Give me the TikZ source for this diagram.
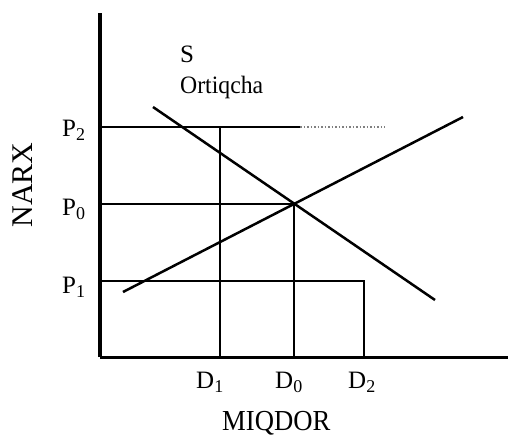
\documentclass[tikz,border=0pt]{standalone}
\usepackage{fontspec}
\setmainfont{Liberation Serif}
\newcommand{\sbs}[1]{\raisebox{-0.35ex}{\fontsize{18}{20}\selectfont #1}}
\begin{document}
\begin{tikzpicture}[x=1pt,y=-1pt,
  lbl/.style={inner sep=0pt, anchor=base west, font=\fontsize{25}{28}\selectfont},
  axisline/.style={line width=3.5pt},
  gridline/.style={line width=2pt},
  curveline/.style={line width=2.5pt}]
\useasboundingbox (0,0) rectangle (515,437);
% axes
\coordinate (O) at (100,357);
\coordinate (ytop) at (100,13);
\coordinate (xend) at (508,357);
\draw[axisline] (O) -- (ytop);
\draw[line width=3pt] (O) -- (xend);
% grid coordinates
\coordinate (p2) at (100,127);
\coordinate (c2) at (220,127);
\coordinate (d1) at (220,357);
\coordinate (e2) at (300,127);
\coordinate (f2) at (385,127);
\coordinate (p0) at (100,204);
\coordinate (c0) at (294,204);
\coordinate (d0) at (294,357);
\coordinate (p1) at (100,281);
\coordinate (c1) at (364,281);
\coordinate (d2) at (364,357);
\draw[gridline] (p2) -- (c2) -- (d1);
\draw[gridline] (c2) -- (e2);
\draw[line width=1.5pt, gray, dotted] (e2) -- (f2);
\draw[gridline] (p0) -- (c0) -- (d0);
\draw[gridline] (p1) -- (c1) -- (d2);
% demand and supply
\coordinate (dA) at (153,107);
\coordinate (dB) at (435,300);
\coordinate (sA) at (123,292);
\coordinate (sB) at (463,117);
\draw[curveline] (dA) -- (dB);
\draw[curveline] (sA) -- (sB);
% labels
\node[lbl] (lp2) at (62,136) {P\sbs{2}};
\node[lbl] (lp0) at (62,215) {P\sbs{0}};
\node[lbl] (lp1) at (62,293) {P\sbs{1}};
\node[lbl] (ld1) at (196,388) {D\sbs{1}};
\node[lbl] (ld0) at (275,388) {D\sbs{0}};
\node[lbl] (ld2) at (348,388) {D\sbs{2}};
\node[lbl] (ls) at (180,62) {S};
\node[lbl, font=\fontsize{25}{28}\selectfont, xscale=0.95] (lo) at (180,93) {Ortiqcha};
\node[lbl, font=\fontsize{29}{32}\selectfont, xscale=0.92] (lx) at (222,430) {MIQDOR};
\node[inner sep=0pt, anchor=base, rotate=90, font=\fontsize{30}{34}\selectfont] (ly) at (32,185) {NARX};
\end{tikzpicture}
\end{document}
